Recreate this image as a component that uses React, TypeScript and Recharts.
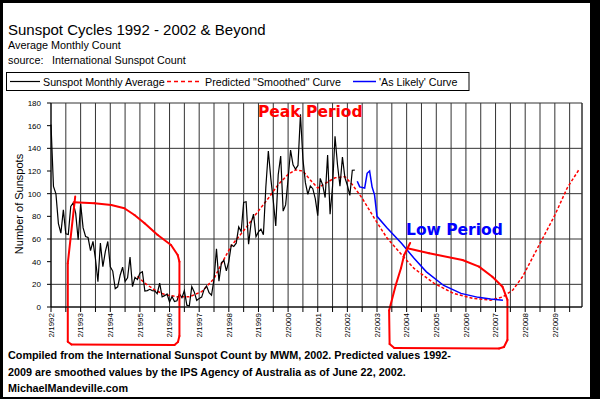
import React from 'react'
import { LineChart, Line, XAxis, YAxis, CartesianGrid, ReferenceLine } from 'recharts'

// monthly averages, first value is 2/1992
const monthlyAverage = [
  161.1, 106.4, 99.8, 73.6, 65.2, 85.7, 64.5, 63.9, 88.7, 91.8, 82.6,
  59.3, 91.0, 69.8, 62.2, 61.3, 49.8, 57.9, 42.4, 22.3, 56.4, 35.5, 48.9,
  57.8, 35.5, 31.7, 16.1, 17.8, 28.0, 35.1, 22.5, 25.7, 44.0, 18.0, 26.2,
  24.2, 29.9, 31.1, 14.0, 14.5, 15.6, 14.5, 14.3, 11.8, 21.1, 9.0, 10.0,
  11.5, 4.4, 9.2, 4.8, 5.5, 11.8, 8.2, 14.4, 1.6, 0.9, 17.9, 13.3,
  5.7, 7.6, 8.7, 15.5, 18.5, 12.7, 10.4, 24.4, 51.3, 22.8, 39.0, 41.2,
  31.9, 40.3, 54.8, 53.4, 56.3, 70.7, 66.6, 92.2, 92.9, 55.5, 74.0, 81.9,
  62.0, 66.3, 68.8, 63.7, 106.4, 137.7, 113.5, 93.7, 71.5, 116.7, 133.2, 84.6,
  90.1, 112.9, 138.5, 125.5, 121.6, 124.9, 170.1, 130.5, 109.7, 99.4, 106.8, 104.4,
  95.6, 80.6, 113.5, 107.7, 96.6, 134.0, 81.8, 106.4, 150.7, 125.5, 106.5, 132.2,
  114.1, 107.4, 98.4, 120.7, 120.8,
]

// predicted smoothed curve (months after 2/1992)
const smoothedMonths = [35, 38, 42, 46, 51, 56, 61, 66, 69, 73, 79, 83, 88, 92, 96, 99, 102, 105, 108, 111, 115, 119, 122, 126, 131, 136, 142, 147, 155, 163, 171, 178, 183, 187, 191, 197, 204, 209, 214]
const smoothedValues = [27, 21, 15, 11, 9, 9, 13.5, 25, 38, 54, 70, 82, 96, 108, 117, 121, 120, 112, 105, 109, 114, 115, 108, 96, 78, 61, 46, 34, 21, 12, 7.6, 6, 9, 15, 27, 52, 81, 105, 122]

// 'as likely' curve
const likelyMonths = [124, 125, 127, 128, 129, 130, 131, 132, 136, 142, 147, 152, 159, 166, 173, 178, 183]
const likelyValues = [111, 106, 105, 118, 120, 106, 99, 80, 70, 56, 43, 31, 19, 12, 8.5, 7, 6]

const yTicks = [0, 20, 40, 60, 80, 100, 120, 140, 160, 180]
const tickYears = [1992, 1993, 1994, 1995, 1996, 1997, 1998, 1999, 2000, 2001, 2002, 2003, 2004, 2005, 2006, 2007, 2008, 2009]

// hand drawn loops, in (month, count) units
const peakLoop = [
  [9.2, 92.4], [17.6, 91.5], [24.4, 90], [29.7, 87.1], [33.8, 81.2], [37.9, 73.9], [43.2, 63.5],
  [48.6, 54.7], [51.3, 45.9], [52, 40], [52, -25.6], [51.4, -30.9], [50, -33.5], [8.3, -33.1],
  [6.8, -30.6], [6.8, 38.6], [9.8, 97.4],
]
const lowLoop = [
  [144.3, 51.8], [153.1, 47.4], [166.6, 41.5], [173.3, 35.6], [178.7, 26.7], [182.8, 17.9],
  [184.8, 6.2], [184.8, -29.1], [183.4, -35.3], [181.4, -36.6], [139, -36.2], [137.1, -32.7],
  [136.9, -3], [139.6, 19.4], [141.7, 34.2], [143, 45.9], [145.4, 56.5],
]

const FONT = '"Liberation Sans", Arial, sans-serif'

const blackData = monthlyAverage.map((v, m) => ({ m, v }))
const redData = smoothedMonths.map((m, i) => ({ m, v: smoothedValues[i] }))
const blueData = likelyMonths.map((m, i) => ({ m, v: likelyValues[i] }))
const xTicks = tickYears.flatMap(y => [(y - 1992) * 12, (y - 1992) * 12 + 6])

const segments = (pts: number[][]) =>
  pts.slice(1).map((p, i) => [{ x: pts[i][0], y: pts[i][1] }, { x: p[0], y: p[1] }])

function XTick(props: any) {
  const { x, y, payload } = props
  const m = payload.value
  if (m % 12 !== 0) return null
  return (
    <text x={x} y={y} dy="0.35em" transform={`rotate(-90, ${x}, ${y})`} textAnchor="end"
      fontSize={8} fontFamily={FONT} fill="#000">
      {`2/${1992 + m / 12}`}
    </text>
  )
}

function Chart() {
  return (
    <LineChart width={600} height={399} margin={{ top: 103, right: 18, bottom: 52, left: 11 }}>
      <CartesianGrid stroke="#333" strokeWidth={1} />
      <XAxis dataKey="m" type="number" domain={[0, 215]} ticks={xTicks} interval={0}
        height={40} tickSize={5} tickMargin={1} stroke="#000" tick={<XTick />} />
      <YAxis type="number" domain={[0, 180]} ticks={yTicks} width={40} tickSize={4} tickMargin={6}
        stroke="#000" tick={{ fill: '#000', fontSize: 8, fontFamily: FONT }} />
      <ReferenceLine x={215} stroke="#333" />
      <Line data={redData} dataKey="v" type="linear" stroke="#ff0000" strokeWidth={1.5}
        strokeDasharray="3 2" dot={false} isAnimationActive={false} />
      <Line data={blackData} dataKey="v" type="linear" stroke="#000" strokeWidth={1.2}
        dot={false} isAnimationActive={false} />
      <Line data={blueData} dataKey="v" type="linear" stroke="#0000ff" strokeWidth={1.5}
        dot={false} isAnimationActive={false} />
      {segments(peakLoop).map((s, i) => (
        <ReferenceLine key={'p' + i} segment={s} stroke="#ff0000" strokeWidth={2}
          strokeLinecap="round" ifOverflow="visible" />
      ))}
      {segments(lowLoop).map((s, i) => (
        <ReferenceLine key={'l' + i} segment={s} stroke="#ff0000" strokeWidth={2}
          strokeLinecap="round" ifOverflow="visible" />
      ))}
    </LineChart>
  )
}

export default function App() {
  return (
    <div style={{ position: 'fixed', left: 0, top: 0, width: 600, height: 399, background: '#000' }}>
      <div style={{ position: 'absolute', left: 3, top: 3, width: 587, height: 394, background: '#fff' }} />
      <div style={{ position: 'absolute', left: 0, top: 0 }}>
        <Chart />
      </div>
      <svg width={600} height={399} style={{ position: 'absolute', left: 0, top: 0, pointerEvents: 'none' }}>
        <g fontFamily={FONT} fill="#000">
          <text x={8} y={34.5} fontSize={15}>Sunspot Cycles 1992 - 2002 &amp; Beyond</text>
          <text x={8} y={49} fontSize={10.8}>Average Monthly Count</text>
          <text x={8} y={63.5} fontSize={10.8}>source:</text>
          <text x={52} y={63.5} fontSize={10.8}>International Sunspot Count</text>

          <rect x={6.5} y={72.5} width={462.5} height={18} fill="none" stroke="#000" />
          <line x1={10} x2={40} y1={81.5} y2={81.5} stroke="#000" strokeWidth={1.2} />
          <text x={43} y={86} fontSize={10.7}>Sunspot Monthly Average</text>
          <line x1={167} x2={201} y1={81.5} y2={81.5} stroke="#ff0000" strokeWidth={1.5} strokeDasharray="4 3" />
          <text x={205} y={86} fontSize={10.7}>Predicted "Smoothed" Curve</text>
          <line x1={353} x2={376} y1={81.5} y2={81.5} stroke="#0000ff" strokeWidth={1.5} />
          <text x={379} y={86} fontSize={10.7}>'As Likely' Curve</text>

          <text transform="translate(23, 204) rotate(-90)" textAnchor="middle" fontSize={11}>Number of Sunspots</text>

          <g fontWeight="bold" fontSize={10.8}>
            <text x={8} y={359}>Compiled from the International Sunspot Count by MWM, 2002. Predicted values 1992-</text>
            <text x={8} y={376}>2009 are smoothed values by the IPS Agency of Australia as of June 22, 2002.</text>
            <text x={8} y={392}>MichaelMandeville.com</text>
          </g>
        </g>
        <g fontFamily='"DejaVu Sans", Verdana, sans-serif' fontWeight="bold" fontSize={15.5}>
          <text x={258} y={117} fill="#ff0000">Peak Period</text>
          <text x={406} y={234.5} fill="#0000ff">Low Period</text>
        </g>
      </svg>
    </div>
  )
}
